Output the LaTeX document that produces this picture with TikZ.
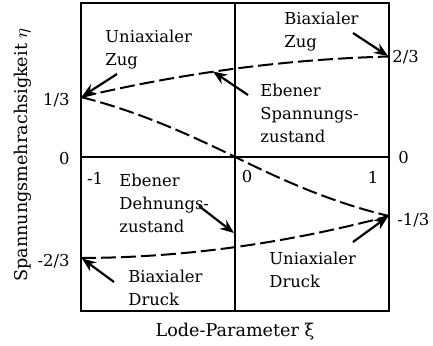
\documentclass[tikz,border=0pt]{standalone}
\usepackage{fontspec}
\setmainfont{DejaVu Serif}
\usetikzlibrary{arrows.meta}
\tikzset{
  frame/.style={line width=1pt},
  curve/.style={line width=1pt, dash pattern=on 7.5pt off 2.5pt},
  ptr/.style={line width=1.1pt, -{Stealth[length=7pt,width=5.5pt]}},
  lbl/.style={align=left, inner sep=0pt, anchor=base west, font=\fontsize{8.2}{11.5}\selectfont},
  tick/.style={inner sep=0pt, font=\fontsize{8.2}{10}\selectfont},
  axlbl/.style={inner sep=0pt, font=\fontsize{8.8}{10}\selectfont},
}
\begin{document}
\begin{tikzpicture}[x=0.5pt,y=0.5pt]
\useasboundingbox (0,0) rectangle (433,345);
% frame
\coordinate (tl) at (81,345-3);
\coordinate (br) at (389,345-311);
\draw[frame] (tl) rectangle (br);
\coordinate (mt) at (235.3,345-3);
\coordinate (mb) at (235.3,345-311);
\coordinate (ml) at (81,345-157);
\coordinate (mr) at (389,345-157);
\draw[frame] (mt) -- (mb);
\draw[frame] (ml) -- (mr);
% curve points
\coordinate (p13) at (81,345-97);
\coordinate (p23) at (389,345-56.5);
\coordinate (p0) at (235.3,345-157);
\coordinate (pm13) at (389,345-216);
\coordinate (pm23) at (81,345-258);
% curves
\draw[curve] (p13) .. controls (183.7,345-72.7) and (286.3,345-59.2) .. (p23);
\draw[curve] (p13) .. controls (140,345-112) and (190,345-135) .. (p0)
                   .. controls (280,345-179) and (330,345-202) .. (pm13);
\draw[curve] (pm23) .. controls (183.7,345-257.7) and (286.3,345-243.3) .. (pm13);
% tick labels
\node[tick, anchor=east] (t13) at (70,345-100) {1/3};
\node[tick, anchor=east] (t0l) at (70,345-159) {0};
\node[tick, anchor=east] (tm23) at (70,345-261) {-2/3};
\node[tick, anchor=west] (t23) at (392,345-57) {2/3};
\node[tick, anchor=west] (t0r) at (398,345-158) {0};
\node[tick, anchor=west] (tm13) at (397,345-220) {-1/3};
\node[tick] (xm1) at (95,345-178) {-1};
\node[tick] (x0) at (247,345-177) {0};
\node[tick] (x1) at (373,345-177) {1};
% axis labels
\node[axlbl, anchor=base] (xlab) at (235,345-336) {Lode-Parameter ξ};
\node[axlbl, anchor=base, rotate=90] (ylab) at (27,345-155) {Spannungsmehrachsigkeit $\eta$};
% annotations (base = last line)
\node[lbl] (uzug) at (105,345-65) {Uniaxialer\\Zug};
\node[lbl] (bzug) at (284,345-47) {Biaxialer\\Zug};
\node[lbl] (ess) at (260,345-142) {Ebener\\Spannungs-\\zustand};
\node[lbl] (edz) at (119,345-232) {Ebener\\Dehnungs-\\zustand};
\node[lbl] (bdr) at (128,345-305) {Biaxialer\\Druck};
\node[lbl] (udr) at (269,345-287) {Uniaxialer\\Druck};
% arrows
\coordinate (a1s) at (117,345-74);   \coordinate (a1e) at (82,345-96.5);
\coordinate (a2s) at (353,345-33);   \coordinate (a2e) at (388,345-56);
\coordinate (a3s) at (248,345-95);   \coordinate (a3e) at (213,345-71.5);
\coordinate (a4s) at (199,345-206);  \coordinate (a4e) at (234,345-233);
\coordinate (a5s) at (114,345-282);  \coordinate (a5e) at (82,345-258.5);
\coordinate (a6s) at (353,345-242);  \coordinate (a6e) at (388,345-216.5);
\draw[ptr] (a1s) -- (a1e);
\draw[ptr] (a2s) -- (a2e);
\draw[ptr] (a3s) -- (a3e);
\draw[ptr] (a4s) -- (a4e);
\draw[ptr] (a5s) -- (a5e);
\draw[ptr] (a6s) -- (a6e);
\end{tikzpicture}
\end{document}
